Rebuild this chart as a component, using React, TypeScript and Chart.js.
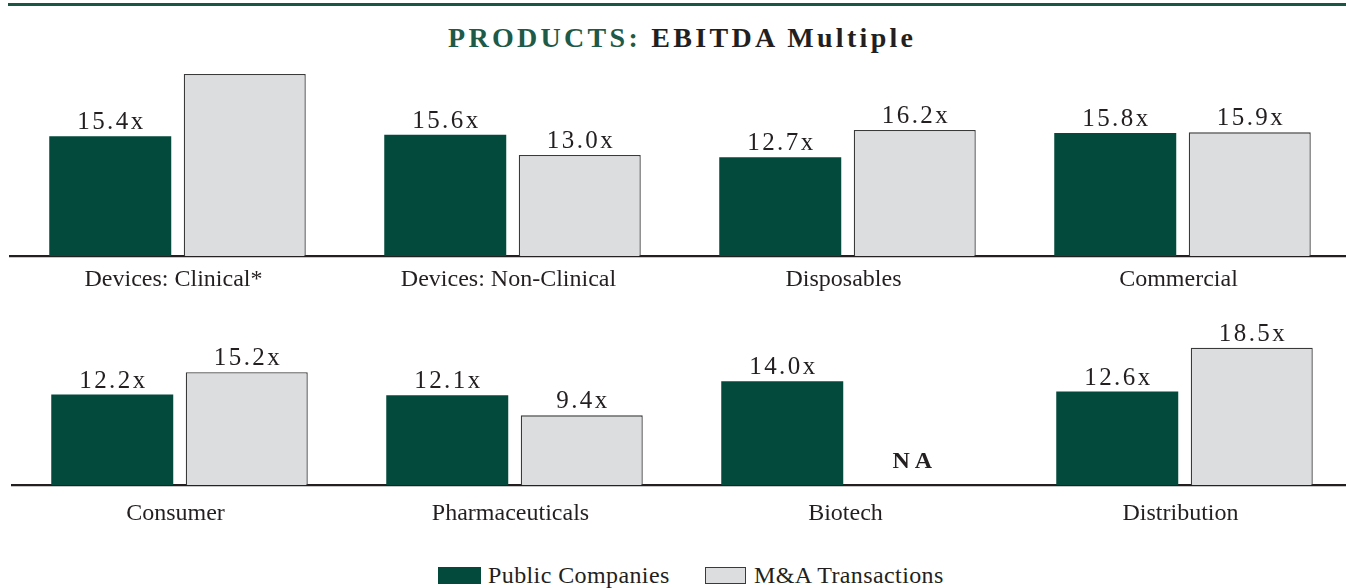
import React, { useEffect, useRef } from "react";
import { Chart, registerables } from "chart.js";

Chart.register(...registerables);

const topCategories = ["Devices: Clinical*", "Devices: Non-Clinical", "Disposables", "Commercial"];
const topPublic = [15.4, 15.6, 12.7, 15.8];
const topMA: (number | null)[] = [23.4, 13.0, 16.2, 15.9];
const topMALabelShown = [false, true, true, true];

const bottomCategories = ["Consumer", "Pharmaceuticals", "Biotech", "Distribution"];
const bottomPublic = [12.2, 12.1, 14.0, 12.6];
const bottomMA: (number | null)[] = [15.2, 9.4, null, 18.5];
const bottomMALabelShown = [true, true, true, true];

const seriesNames = ["Public Companies", "M&A Transactions"];

const GREEN = "#034a3c";
const GRAY = "#dcdddf";
const BORDER = "#3a3a3a";
const TEXT = "#231f20";
const FONT = "'Liberation Serif', 'Times New Roman', serif";

const valueLabels = {
  id: "valueLabels",
  afterDatasetsDraw(chart: any) {
    const ctx = chart.ctx;
    const yScale = chart.scales.y;
    const zeroY = yScale.getPixelForValue(0);
    ctx.save();
    ctx.fillStyle = TEXT;
    ctx.textAlign = "center";
    ctx.textBaseline = "alphabetic";
    chart.data.datasets.forEach((ds: any, di: number) => {
      const meta = chart.getDatasetMeta(di);
      meta.data.forEach((bar: any, j: number) => {
        const v = ds.data[j];
        if (v === null || v === undefined) {
          ctx.font = `bold 24px ${FONT}`;
          (ctx as any).letterSpacing = "5px";
          ctx.fillText("NA", bar.x - 2, zeroY - 17);
          return;
        }
        const shown = ds.labelShown ? ds.labelShown[j] : true;
        if (!shown) return;
        ctx.font = `25px ${FONT}`;
        (ctx as any).letterSpacing = "2.4px";
        ctx.fillText(v.toFixed(1) + "x", bar.x + 1.2, bar.y - 7);
      });
    });
    ctx.restore();
  },
};

function makeConfig(
  categories: string[],
  pub: number[],
  ma: (number | null)[],
  shown: boolean[],
  yMax: number,
  padLeft: number,
  padRight: number,
  tickPad: number
): any {
  return {
    type: "bar",
    data: {
      labels: categories,
      datasets: [
        {
          label: seriesNames[0],
          data: pub,
          backgroundColor: GREEN,
          borderWidth: 0,
          categoryPercentage: 0.803,
          barPercentage: 0.907,
        },
        {
          label: seriesNames[1],
          data: ma,
          labelShown: shown,
          backgroundColor: GRAY,
          borderColor: BORDER,
          borderWidth: 1.3,
          categoryPercentage: 0.803,
          barPercentage: 0.907,
        },
      ],
    },
    options: {
      animation: false,
      responsive: false,
      maintainAspectRatio: false,
      layout: { padding: { left: padLeft, right: padRight, top: 0, bottom: 0 } },
      plugins: {
        legend: { display: false },
        title: { display: false },
        tooltip: { enabled: false },
      },
      scales: {
        x: {
          grid: { display: false, drawTicks: false },
          border: { display: true, color: TEXT, width: 2.2 },
          ticks: {
            color: TEXT,
            font: { family: FONT, size: 24 },
            padding: tickPad,
            labelOffset: -4,
            autoSkip: false,
            maxRotation: 0,
          },
        },
        y: {
          display: false,
          min: 0,
          max: yMax,
        },
      },
    },
    plugins: [valueLabels],
  };
}

const CANVAS_W = 1352;

function BarRow(props: {
  categories: string[];
  pub: number[];
  ma: (number | null)[];
  shown: boolean[];
  yMax: number;
  top: number;
  height: number;
  padLeft: number;
  padRight: number;
  tickPad: number;
}) {
  const ref = useRef<HTMLCanvasElement | null>(null);
  useEffect(() => {
    if (!ref.current) return;
    const chart = new Chart(
      ref.current,
      makeConfig(props.categories, props.pub, props.ma, props.shown, props.yMax, props.padLeft, props.padRight, props.tickPad)
    );
    return () => chart.destroy();
  }, []);
  return (
    <canvas
      ref={ref}
      width={CANVAS_W}
      height={props.height}
      style={{ position: "absolute", left: 0, top: props.top, width: CANVAS_W, height: props.height }}
    />
  );
}

export default function App() {
  return (
    <div
      style={{
        position: "fixed",
        left: 0,
        top: 0,
        width: 1346,
        height: 588,
        background: "#ffffff",
        overflow: "hidden",
        fontFamily: FONT,
        color: TEXT,
      }}
    >
      <div style={{ position: "absolute", left: 8, right: 0, top: 3, height: 2.5, background: "#1b5645" }} />
      <div
        style={{
          position: "absolute",
          left: 448,
          top: 24,
          whiteSpace: "nowrap",
          fontSize: 28,
          lineHeight: "28px",
          fontWeight: "bold",
          letterSpacing: 3.3,
          color: TEXT,
        }}
      >
        <span style={{ color: "#1d5a47" }}>PRODUCTS:</span> EBITDA Multiple
      </div>
      <BarRow
        categories={topCategories}
        pub={topPublic}
        ma={topMA}
        shown={topMALabelShown}
        yMax={25.7}
        top={56}
        height={247}
        padLeft={10}
        padRight={2}
        tickPad={9}
      />
      <BarRow
        categories={bottomCategories}
        pub={bottomPublic}
        ma={bottomMA}
        shown={bottomMALabelShown}
        yMax={23.3}
        top={312}
        height={230}
        padLeft={12}
        padRight={0}
        tickPad={14}
      />
      <div style={{ position: "absolute", left: 438, top: 567, width: 43, height: 17, background: GREEN }} />
      <div
        style={{
          position: "absolute",
          left: 488,
          top: 563,
          fontSize: 24,
          lineHeight: "24px",
          whiteSpace: "nowrap",
          letterSpacing: 0.4,
        }}
      >
        {seriesNames[0]}
      </div>
      <div
        style={{
          position: "absolute",
          left: 705,
          top: 567,
          width: 41,
          height: 17,
          background: GRAY,
          border: `1.3px solid ${BORDER}`,
          boxSizing: "border-box",
        }}
      />
      <div
        style={{
          position: "absolute",
          left: 754,
          top: 563,
          fontSize: 24,
          lineHeight: "24px",
          whiteSpace: "nowrap",
          letterSpacing: 0.4,
        }}
      >
        {seriesNames[1]}
      </div>
    </div>
  );
}
